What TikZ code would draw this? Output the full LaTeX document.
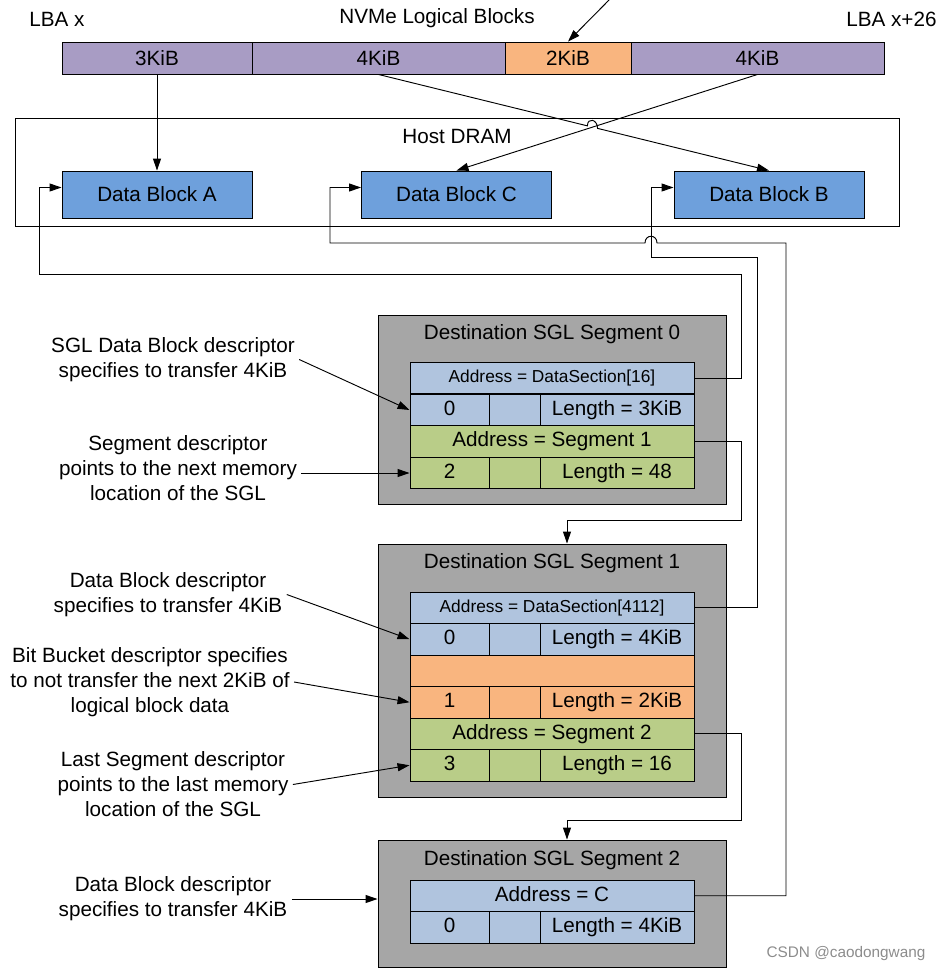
\documentclass[tikz,border=0pt]{standalone}
\usepackage{fontspec}
\setmainfont{Liberation Sans}
\usetikzlibrary{arrows.meta, calc}

\definecolor{lbapurple}{RGB}{168,156,196}
\definecolor{bucketorange}{RGB}{249,181,127}
\definecolor{blockblue}{RGB}{110,160,220}
\definecolor{descblue}{RGB}{176,196,222}
\definecolor{segmentgreen}{RGB}{185,205,136}
\definecolor{segmentgray}{RGB}{166,166,166}

\newcommand{\bigfont}{\fontsize{15.5}{18.75}\selectfont}
\newcommand{\smallfont}{\fontsize{13}{15.6}\selectfont}

\begin{document}
\begin{tikzpicture}[x = 0.75pt, y = -0.75pt, > = {Triangle[length=9pt, width=6pt]}, line width = 0.7pt,
    every node/.style = {inner sep=0pt, font=\bigfont},
    lbacell/.style = {draw, fill=lbapurple, minimum height=24pt},
    block/.style = {draw, fill=blockblue, minimum width=142.5pt, minimum height=35.25pt},
    segbox/.style = {draw, fill=segmentgray, minimum width=261pt},
    cellbox/.style = {draw, minimum height=23.6pt, text height=11.2pt, text depth=3.2pt},
    row/.style = {cellbox, minimum width=213pt},
    smallrow/.style = {row, font=\smallfont, text height=9.4pt, text depth=2.7pt},
    idcell/.style = {cellbox, minimum width=59.25pt},
    gapcell/.style = {cellbox, minimum width=38.25pt},
    lencell/.style = {cellbox, minimum width=115.5pt},
    note/.style = {align=center, inner sep=3pt}]
    \useasboundingbox (0, 0) rectangle (942, 972);

    % logical blocks
    \node (lbax) at (57, 19) {LBA x};
    \node (nvme) at (437, 18) {NVMe Logical Blocks};
    \node[anchor=east] (lbaend) at (937, 19) {LBA x+26};
    \node[lbacell, minimum width=142.5pt] (lb1) at (157, 58) {3KiB};
    \node[lbacell, minimum width=189.75pt] (lb2) at (378.5, 58) {4KiB};
    \node[lbacell, minimum width=94.5pt, fill=bucketorange] (lb3) at (568, 58) {2KiB};
    \node[lbacell, minimum width=189.75pt] (lb4) at (757.5, 58) {4KiB};
    \coordinate (ptr) at (612, -3);

    % host memory
    \node[draw, minimum width=663pt, minimum height=81pt] (dram) at (457, 172) {};
    \node (dramlbl) at (457, 136) {Host DRAM};
    \node[block] (dbA) at (157, 194.5) {Data Block A};
    \node[block] (dbC) at (456.5, 194.5) {Data Block C};
    \node[block] (dbB) at (769, 194.5) {Data Block B};
    \coordinate (inA) at ($(dbA.west)+(0,-7)$);
    \coordinate (inC) at ($(dbC.west)+(0,-7)$);
    \coordinate (inB) at ($(dbB.west)+(0,-7)$);

    % segment 0
    \node[segbox, minimum height=141.75pt] (seg0) at (552, 409.5) {};
    \node (seg0lbl) at (552, 334) {Destination SGL Segment 0};
    \node[smallrow, fill=descblue] (s0r1) at (552, 378) {Address = DataSection[16]};
    \node[idcell, fill=descblue] (s0r2a) at (449.5, 410) {0};
    \node[gapcell, fill=descblue] (s0r2b) at (514.5, 410) {};
    \node[lencell, fill=descblue] (s0r2c) at (617, 410) {Length = 3KiB};
    \node[row, fill=segmentgreen] (s0r3) at (552, 441.5) {Address = Segment 1};
    \node[idcell, fill=segmentgreen] (s0r4a) at (449.5, 473) {2};
    \node[gapcell, fill=segmentgreen] (s0r4b) at (514.5, 473) {};
    \node[lencell, fill=segmentgreen] (s0r4c) at (617, 473) {Length = 48};

    % segment 1
    \node[segbox, minimum height=189.75pt] (seg1) at (552, 670.5) {};
    \node (seg1lbl) at (552, 563) {Destination SGL Segment 1};
    \node[smallrow, fill=descblue] (s1r1) at (552, 607.75) {Address = DataSection[4112]};
    \node[idcell, fill=descblue] (s1r2a) at (449.5, 639.25) {0};
    \node[gapcell, fill=descblue] (s1r2b) at (514.5, 639.25) {};
    \node[lencell, fill=descblue] (s1r2c) at (617, 639.25) {Length = 4KiB};
    \node[row, fill=bucketorange] (s1r3) at (552, 670.75) {};
    \node[idcell, fill=bucketorange] (s1r4a) at (449.5, 702.25) {1};
    \node[gapcell, fill=bucketorange] (s1r4b) at (514.5, 702.25) {};
    \node[lencell, fill=bucketorange] (s1r4c) at (617, 702.25) {Length = 2KiB};
    \node[row, fill=segmentgreen] (s1r5) at (552, 733.75) {Address = Segment 2};
    \node[idcell, fill=segmentgreen] (s1r6a) at (449.5, 765.25) {3};
    \node[gapcell, fill=segmentgreen] (s1r6b) at (514.5, 765.25) {};
    \node[lencell, fill=segmentgreen] (s1r6c) at (617, 765.25) {Length = 16};

    % segment 2
    \node[segbox, minimum height=95.25pt] (seg2) at (552, 903.5) {};
    \node (seg2lbl) at (552, 860) {Destination SGL Segment 2};
    \node[row, fill=descblue] (s2r1) at (552, 895.75) {Address = C};
    \node[idcell, fill=descblue] (s2r2a) at (449.5, 927.25) {0};
    \node[gapcell, fill=descblue] (s2r2b) at (514.5, 927.25) {};
    \node[lencell, fill=descblue] (s2r2c) at (617, 927.25) {Length = 4KiB};

    % notes
    \node[note] (n1) at (173, 359.5) {SGL Data Block descriptor\\specifies to transfer 4KiB};
    \node[note] (n2) at (178, 468.5) {Segment descriptor\\points to the next memory\\location of the SGL};
    \node[note] (n3) at (168, 594.5) {Data Block descriptor\\specifies to transfer 4KiB};
    \node[note] (n4) at (150, 682) {Bit Bucket descriptor specifies\\to not transfer the next 2KiB of\\logical block data};
    \node[note] (n5) at (173, 784.5) {Last Segment descriptor\\points to the last memory\\location of the SGL};
    \node[note] (n6) at (173, 899) {Data Block descriptor\\specifies to transfer 4KiB};
    \node[font=\fontsize{11.5}{14}\selectfont, text=black!45] (mark) at (846, 954) {CSDN @caodongwang};

    % corner points of the links
    \coordinate (hopL) at ($(lb2.south)!0.535!(dbB.north)$);
    \coordinate (hopR) at ($(lb2.south)!0.561!(dbB.north)$);
    \coordinate (aR) at (741, 274);
    \coordinate (aL) at (39, 274);
    \coordinate (bR) at (757, 257);
    \coordinate (bL) at (651, 257);
    \coordinate (cR) at (786, 243);
    \coordinate (hopCR) at (657, 243);
    \coordinate (hopCL) at (645, 243);
    \coordinate (cL) at (330, 243);
    \coordinate (dR) at (741, 520);
    \coordinate (dL) at (567, 520);
    \coordinate (eR) at (741, 820);
    \coordinate (eL) at (567, 820);

    \draw[->] (ptr) -- (lb3.north);
    \draw[->] (lb1.south) -- (dbA.north);
    \draw[->] (lb4.south) -- (dbC.north);
    \draw[->] (lb2.south) -- (hopL) .. controls +(0,-9) and +(0,-9) .. (hopR) -- (dbB.north);

    \draw[->] (s0r1.east) -| (aR) -- (aL) |- (inA);
    \draw[->] (s1r1.east) -| (bR) -- (bL) |- (inB);
    \draw[->] (s2r1.east) -| (cR) -- (hopCR) .. controls +(0,-9) and +(0,-9) .. (hopCL) -- (cL) |- (inC);
    \draw[->] (s0r3.east) -| (dR) -- (dL) -- (dL |- seg1.north);
    \draw[->] (s1r5.east) -| (eR) -- (eL) -- (eL |- seg2.north);

    \draw[->] (n1.east) -- (s0r2a.west);
    \draw[->] (n2.east |- s0r4a.west) -- (s0r4a.west);
    \draw[->] (n3.east) -- (s1r2a.west);
    \draw[->] (n4.east) -- (s1r4a.west);
    \draw[->] (n5.east) -- (s1r6a.west);
    \draw[->] (n6.east) -- (n6.east -| seg2.west);
\end{tikzpicture}
\end{document}
